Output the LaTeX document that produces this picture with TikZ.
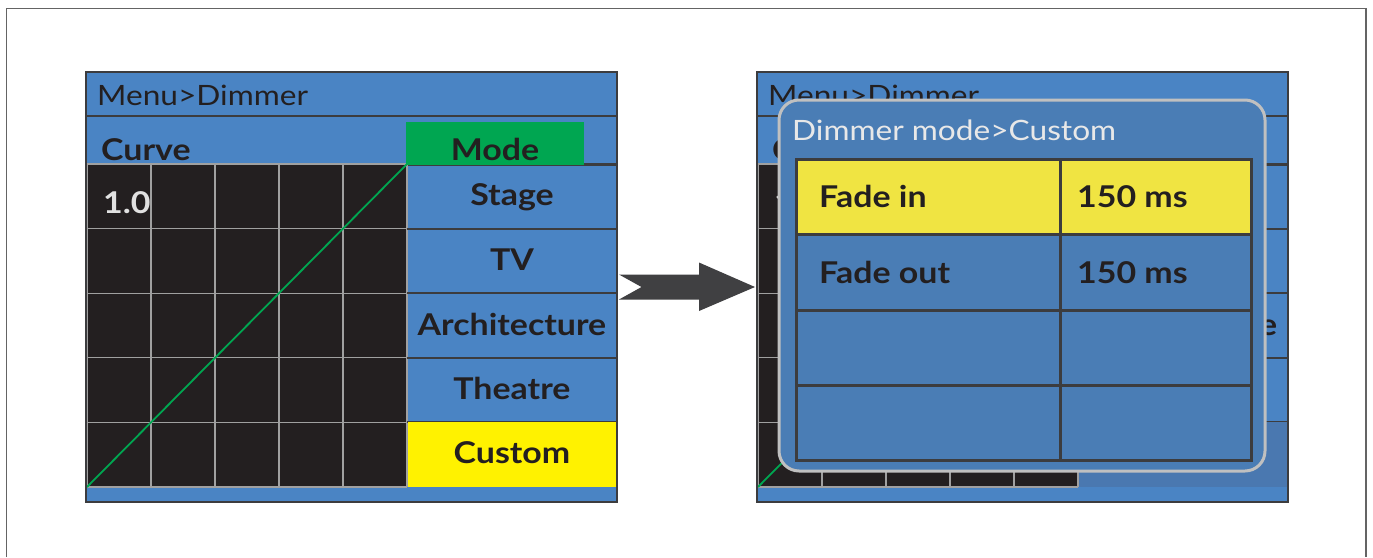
\documentclass[tikz,border=0pt]{standalone}
\usepackage{fontspec}
\setmainfont{Lato}[FakeStretch=1.13]
\definecolor{panelblue}{RGB}{74,132,196}
\definecolor{popblue}{RGB}{74,125,181}
\definecolor{custblue}{RGB}{74,120,176}
\definecolor{darkline}{RGB}{60,60,62}
\definecolor{gridblack}{RGB}{35,31,32}
\definecolor{gridgray}{RGB}{160,160,160}
\definecolor{modegreen}{RGB}{0,166,81}
\definecolor{custyellow}{RGB}{255,242,0}
\definecolor{tabyellow}{RGB}{240,228,66}
\definecolor{arrowgray}{RGB}{64,64,66}
\definecolor{framegray}{RGB}{100,100,100}
\definecolor{popborder}{RGB}{192,192,192}
\definecolor{textdark}{RGB}{35,31,32}
\definecolor{onewhite}{RGB}{225,225,225}
\definecolor{poptext}{RGB}{232,232,232}
\tikzset{
  titletext/.style={font=\fontsize{28}{32}\selectfont, text=textdark, anchor=base west, inner sep=0pt},
  itemtext/.style={font=\bfseries\fontsize{30}{34}\selectfont, text=textdark, anchor=base, inner sep=0pt},
  sepline/.style={draw=darkline, line width=2.5pt},
  gridline/.style={draw=gridgray, line width=1.2pt},
}
% panel body: #1 xshift, #2 fill of the Custom row
\newcommand\dimbody[2]{%
\begin{scope}[xshift=#1]
  \fill[panelblue] (86,72) rectangle (617,502);
  \draw[sepline] (86,116) -- (617,116);
  \draw[sepline] (86,164.5) -- (617,164.5);
  \fill[gridblack] (87,164) rectangle (407,487);
  \foreach \gx in {87,151,215,279,343,407} \draw[gridline] (\gx,164) -- (\gx,487);
  \foreach \gy in {164,228.6,293.2,357.8,422.4,487} \draw[gridline] (87,\gy) -- (407,\gy);
  \draw[modegreen, line width=1.8pt] (87,487) -- (407,164);
  \foreach \sy in {229,293,358} \draw[sepline] (407,\sy) -- (617,\sy);
  \draw[sepline] (407,422) -- (617,422);
  \fill[#2] (407.6,422) rectangle (617,487);
  \fill[modegreen] (406,122) rectangle (583.5,165);
  \draw[sepline] (86,72) rectangle (617,502);
\end{scope}}
\begin{document}
\begin{tikzpicture}[x=1pt,y=-1pt]
\useasboundingbox (0,0) rectangle (1373,557);
\fill[white] (0,0) rectangle (1373,557);
\draw[framegray, line width=1.5pt] (6.5,557) -- (6.5,8.5) -- (1366,8.5) -- (1366,557);
% left panel
\dimbody{0pt}{custyellow}
\node[titletext] (menuL) at (97,105) {Menu>Dimmer};
\node[itemtext, anchor=base west] (curveL) at (101,160) {Curve};
\node[itemtext] (modeL) at (495,160) {Mode};
\node[itemtext, text=onewhite, anchor=base west] (oneL) at (103,213) {1.0};
\node[itemtext] (stageL) at (512,205) {Stage};
\node[itemtext] (tvL) at (512,270) {TV};
\node[itemtext] (archL) at (512,335) {Architecture};
\node[itemtext] (theatreL) at (512,399) {Theatre};
\node[itemtext] (customL) at (512,463) {Custom};
% arrow
\fill[arrowgray] (619,274.5) -- (699,274.5) -- (699,262.5) -- (755,287) -- (699,311) -- (699,299.5) -- (619,299.5) -- (641.5,287) -- cycle;
% right panel (mostly hidden behind the popup)
\dimbody{671pt}{custblue}
\node[titletext] (menuR) at (768,105) {Menu>Dimmer};
\node[itemtext, anchor=base west] (curveR) at (772,160) {C};
\node[itemtext, text=onewhite, anchor=base west] (oneR) at (774,213) {1};
\node[itemtext] (archR) at (1183,335) {Architecture};
% popup
\draw[draw=popborder, fill=popblue, line width=3pt, rounded corners=20pt] (779,100) rectangle (1265,471);
\node[titletext, text=poptext] (ptitle) at (792,140) {Dimmer mode>Custom};
\fill[tabyellow] (796,159) rectangle (1251,234);
\foreach \ty in {234,310,385} \draw[darkline, line width=3pt] (796,\ty) -- (1251,\ty);
\draw[darkline, line width=3pt] (1060,159) -- (1060,460);
\draw[darkline, line width=3pt] (796,159) rectangle (1251,460);
\node[itemtext, anchor=base west] (fadein) at (819,207) {Fade in};
\node[itemtext, anchor=base west] (fadeinv) at (1077,207) {150 ms};
\node[itemtext, anchor=base west] (fadeout) at (819,283) {Fade out};
\node[itemtext, anchor=base west] (fadeoutv) at (1077,283) {150 ms};
\end{tikzpicture}
\end{document}
